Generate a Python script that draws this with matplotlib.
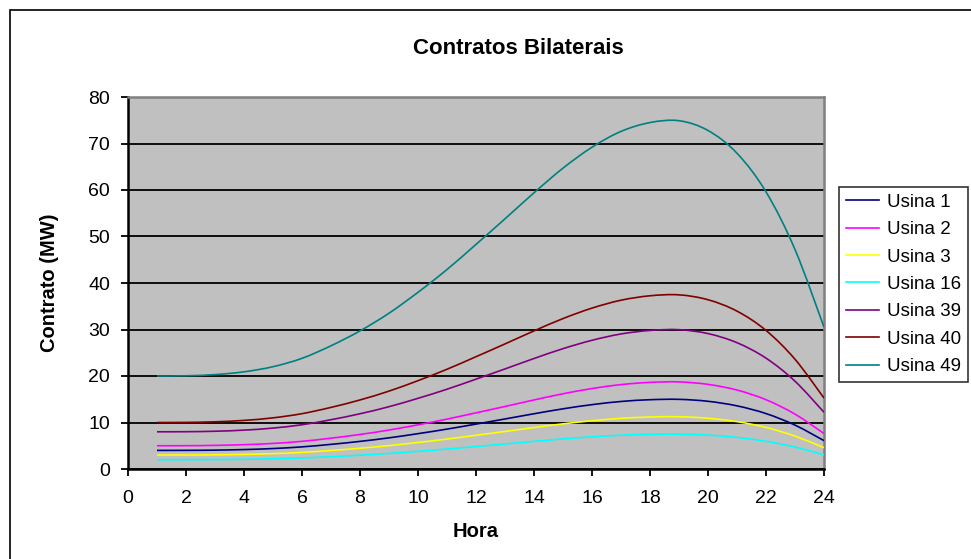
## Contratos bilaterais por usina ao longo do dia
import numpy as np
import matplotlib
matplotlib.use("Agg")
from matplotlib import pyplot as plt
from matplotlib.path import Path
from matplotlib.patches import PathPatch, Rectangle
from matplotlib.lines import Line2D

plt.rcParams['font.family'] = ['Liberation Sans', 'DejaVu Sans']

# hourly data (MW)
horas = list(range(1, 25))
usina1 = [4, 4.01, 4.06, 4.18, 4.4, 4.76, 5.3, 5.94, 6.7, 7.6, 8.58, 9.66,
          10.76, 11.88, 12.94, 13.84, 14.52, 14.9, 14.98, 14.56, 13.58, 11.92, 9.44, 6.1]
usina2 = [5, 5.01, 5.08, 5.23, 5.5, 5.95, 6.63, 7.43, 8.38, 9.5, 10.73, 12.08,
          13.45, 14.85, 16.18, 17.3, 18.15, 18.63, 18.73, 18.2, 16.98, 14.9, 11.8, 7.63]
usina3 = [3, 3.01, 3.05, 3.14, 3.3, 3.57, 3.98, 4.46, 5.03, 5.7, 6.44, 7.25,
          8.07, 8.91, 9.71, 10.38, 10.89, 11.18, 11.24, 10.92, 10.19, 8.94, 7.08, 4.58]
usina16 = [2, 2.01, 2.03, 2.09, 2.2, 2.38, 2.65, 2.97, 3.35, 3.8, 4.29, 4.83,
           5.38, 5.94, 6.47, 6.92, 7.26, 7.45, 7.49, 7.28, 6.79, 5.96, 4.72, 3.05]
usina39 = [8, 8.02, 8.12, 8.36, 8.8, 9.52, 10.6, 11.88, 13.4, 15.2, 17.16, 19.32,
           21.52, 23.76, 25.88, 27.68, 29.04, 29.8, 29.96, 29.12, 27.16, 23.84, 18.88, 12.2]
usina40 = [10, 10.02, 10.15, 10.45, 11, 11.9, 13.25, 14.85, 16.75, 19, 21.45, 24.15,
           26.9, 29.7, 32.35, 34.6, 36.3, 37.25, 37.45, 36.4, 33.95, 29.8, 23.6, 15.25]
usina49 = [20, 20.05, 20.3, 20.9, 22, 23.8, 26.5, 29.7, 33.5, 38, 42.9, 48.3,
           53.8, 59.4, 64.7, 69.2, 72.6, 74.5, 74.9, 72.8, 67.9, 59.6, 47.2, 30.5]

nomes = ["Usina 1", "Usina 2", "Usina 3", "Usina 16", "Usina 39", "Usina 40", "Usina 49"]
series = [usina1, usina2, usina3, usina16, usina39, usina40, usina49]
cores = ["#000080", "#FF00FF", "#FFFF00", "#00FFFF", "#800080", "#800000", "#008080"]


# smoothed line (cubic bezier through the points, like a spreadsheet "smooth line")
def smooth_path(x, y):
    p = np.column_stack([x, y]).astype(float)
    n = len(p)
    verts = [p[0]]
    codes = [Path.MOVETO]
    for i in range(n - 1):
        p0 = p[i - 1] if i > 0 else p[i]
        p3 = p[i + 2] if i + 2 < n else p[i + 1]
        c1 = p[i] + (p[i + 1] - p0) / 6.0
        c2 = p[i + 1] - (p3 - p[i]) / 6.0
        verts += [c1, c2, p[i + 1]]
        codes += [Path.CURVE4] * 3
    return Path(verts, codes)


fig = plt.figure(figsize=(9.71, 5.59), dpi=100)
ax = fig.add_axes([128/971, 1 - 469/559, 696/971, 372/559])
ax.set_facecolor("#C0C0C0")

for y, c in zip(series, cores):
    ax.add_patch(PathPatch(smooth_path(horas, y), fill=False, edgecolor=c, lw=1.2, zorder=3))

ax.set_xlim(0, 24)
ax.set_ylim(0, 80)
ax.set_xticks(range(0, 25, 2))
ax.set_yticks(range(0, 81, 10))
ax.yaxis.grid(True, color="black", lw=1.3)
ax.set_axisbelow(True)
ax.tick_params(axis="both", labelsize=14, length=5, width=1.3, color="black")
ax.tick_params(axis="x", pad=10)
ax.tick_params(axis="y", pad=8)
for s in ["left", "bottom"]:
    ax.spines[s].set_color("black")
    ax.spines[s].set_linewidth(1.8)
for s in ["top", "right"]:
    ax.spines[s].set_color("#808080")
    ax.spines[s].set_linewidth(1.8)

ax.set_xlabel("Hora", fontsize=14.5, fontweight="bold", labelpad=11)
ax.set_ylabel("Contrato (MW)", fontsize=14.5, fontweight="bold", labelpad=21)
fig.text(518/971, 1 - 48/559, "Contratos Bilaterais", fontsize=16, fontweight="bold",
         ha="center", va="center")

handles = [Line2D([], [], color=c, lw=1.2) for c in cores]
leg = fig.legend(handles, nomes, loc="upper left", bbox_to_anchor=(839/971, 1 - 187/559),
                 fontsize=13.5, frameon=True, fancybox=False, edgecolor="black",
                 borderpad=0.35, labelspacing=0.55, handlelength=1.8, handletextpad=0.43,
                 borderaxespad=0)
leg.get_frame().set_linewidth(1.2)

# outer chart border
fig.patches.append(Rectangle((10/971, -0.1), 1.2, 1.1 - 10/559, transform=fig.transFigure,
                             fill=False, edgecolor="black", lw=1.2))

plt.savefig("out.png", dpi=100)
